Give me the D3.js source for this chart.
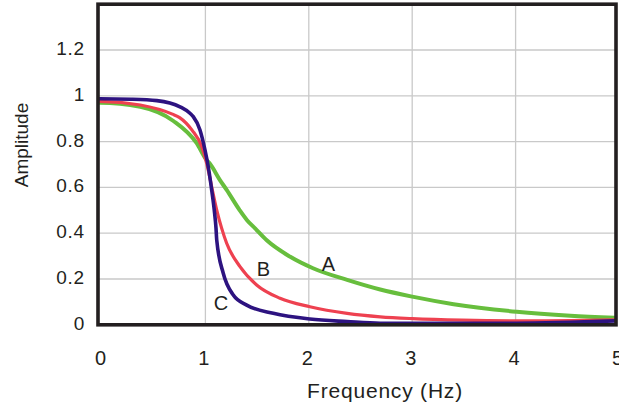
<!DOCTYPE html>
<html>
<head>
<meta charset="utf-8">
<script src="https://cdn.jsdelivr.net/npm/d3@7"></script>
<style>
    body { margin: 0; background: #fff; }
    text { font-family: "Liberation Sans", Arial, sans-serif; fill: #231f20; }
</style>
</head>
<body>
<script>
(function(){

//data: frequency (Hz) and amplitude for each curve
var freqA = [0, 0.39, 0.71, 0.935, 1.03, 1.06, 1.16, 1.225, 1.35, 1.42, 1.5, 1.61, 1.84, 2.06, 2.39, 2.71, 3.02, 3.42, 4.03, 4.55, 4.98];
var ampA  = [0.970, 0.952, 0.890, 0.793, 0.720, 0.705, 0.632, 0.589, 0.501, 0.458, 0.421, 0.370, 0.297, 0.247, 0.196, 0.154, 0.123, 0.090, 0.057, 0.040, 0.031];

var freqB = [0, 0.39, 0.70, 0.77, 0.89, 0.984, 1.032, 1.08, 1.129, 1.177, 1.225, 1.354, 1.515, 1.741, 2.03, 2.39, 2.71, 3.02, 3.5, 4.03, 4.98];
var ampB  = [0.976, 0.960, 0.920, 0.905, 0.850, 0.778, 0.705, 0.603, 0.501, 0.421, 0.356, 0.254, 0.174, 0.116, 0.079, 0.050, 0.035, 0.027, 0.020, 0.017, 0.022];

var freqC = [0, 0.30, 0.55, 0.774, 0.87, 0.902, 0.967, 1.015, 1.047, 1.08, 1.105, 1.122, 1.129, 1.192, 1.289, 1.419, 1.676, 2.03, 2.39, 2.71, 4.03, 4.98];
var ampC  = [0.987, 0.985, 0.979, 0.952, 0.924, 0.909, 0.851, 0.764, 0.690, 0.589, 0.501, 0.421, 0.370, 0.225, 0.130, 0.086, 0.050, 0.025, 0.014, 0.007, 0.007, 0.017];

var seriesNames = ["A", "B", "C"];
var seriesColors = ["#67be3d", "#ee4150", "#2d1380"];
var seriesWidths = [4, 3.2, 3.6];

//curve labels, placed in data units (baseline)
var labelFreq = [2.21, 1.58, 1.17];
var labelAmp  = [0.236, 0.213, 0.065];

var xTicks = [0, 1, 2, 3, 4, 5];
var yTicks = [0, 0.2, 0.4, 0.6, 0.8, 1, 1.2];
var xGrid = [1, 2, 3, 4];
var yGrid = [0.2, 0.4, 0.6, 0.8, 1, 1.2];

window.onload = drawChart();

function drawChart(){

    var width = 619,
        height = 407;

    //plot frame
    var left = 98, right = 616, top = 4.2, bottom = 324.8;

    var svg = d3.select("body")
        .append("svg")
        .attr("width", width)
        .attr("height", height);

    var x = d3.scaleLinear()
        .domain([0, 5])
        .range([100, 617]);

    var y = d3.scaleLinear()
        .domain([0, 1.4])
        .range([bottom, top]);

    //grid
    svg.append("g")
        .selectAll("line")
        .data(xGrid)
        .enter()
        .append("line")
        .attr("x1", function(d){ return x(d) + 2; })
        .attr("x2", function(d){ return x(d) + 2; })
        .attr("y1", top)
        .attr("y2", bottom)
        .attr("stroke", "#c9c9c9")
        .attr("stroke-width", 1.3);

    svg.append("g")
        .selectAll("line")
        .data(yGrid)
        .enter()
        .append("line")
        .attr("x1", left)
        .attr("x2", right)
        .attr("y1", function(d){ return y(d); })
        .attr("y2", function(d){ return y(d); })
        .attr("stroke", "#c9c9c9")
        .attr("stroke-width", 1.3);

    //curves
    var line = d3.line()
        .x(function(d){ return x(d[0]); })
        .y(function(d){ return y(d[1]); })
        .curve(d3.curveMonotoneX);

    var freqs = [freqA, freqB, freqC];
    var amps = [ampA, ampB, ampC];

    svg.append("clipPath")
        .attr("id", "plotclip")
        .append("rect")
        .attr("x", left)
        .attr("y", top)
        .attr("width", right - left)
        .attr("height", bottom - top);

    var curves = svg.append("g").attr("clip-path", "url(#plotclip)");
    seriesNames.forEach(function(name, i){
        var pts = d3.zip(freqs[i], amps[i]);
        pts.unshift([-0.03, amps[i][0]]);
        curves.append("path")
            .datum(pts)
            .attr("class", "curve " + name)
            .attr("d", line)
            .attr("fill", "none")
            .attr("stroke", seriesColors[i])
            .attr("stroke-width", seriesWidths[i])
            .attr("stroke-linejoin", "round");
    });

    //curve letters
    svg.append("g")
        .selectAll("text")
        .data(seriesNames)
        .enter()
        .append("text")
        .attr("x", function(d, i){ return x(labelFreq[i]); })
        .attr("y", function(d, i){ return y(labelAmp[i]); })
        .attr("text-anchor", "middle")
        .style("font-size", "20px")
        .text(function(d){ return d; });

    //frame
    svg.append("rect")
        .attr("x", left)
        .attr("y", top)
        .attr("width", right - left)
        .attr("height", bottom - top)
        .attr("fill", "none")
        .attr("stroke", "#231f20")
        .attr("stroke-width", 3.6);

    //axes
    var yAxis = d3.axisLeft(y)
        .tickValues(yTicks)
        .tickSize(0)
        .tickPadding(13)
        .tickFormat(function(d){ return String(d); });

    var gy = svg.append("g")
        .attr("transform", "translate(" + left + ",0)")
        .call(yAxis);
    gy.select(".domain").remove();
    gy.selectAll("text")
        .attr("dy", "0.24em")
        .style("font-size", "19px")
        .style("letter-spacing", "0.8px")
        .attr("fill", "#231f20");

    var xAxis = d3.axisBottom(x)
        .tickValues(xTicks)
        .tickSize(0)
        .tickPadding(26)
        .tickFormat(function(d){ return String(d); });

    var gx = svg.append("g")
        .attr("transform", "translate(0," + bottom + ")")
        .call(xAxis);
    gx.select(".domain").remove();
    gx.selectAll("text")
        .style("font-size", "20px")
        .attr("fill", "#231f20");

    //titles
    svg.append("text")
        .attr("transform", "translate(28,145) rotate(-90)")
        .attr("text-anchor", "middle")
        .style("font-size", "19px")
        .text("Amplitude");

    svg.append("text")
        .attr("x", 385)
        .attr("y", 397.5)
        .attr("text-anchor", "middle")
        .style("font-size", "21px")
        .style("letter-spacing", "0.8px")
        .text("Frequency (Hz)");
};

})();
</script>
</body>
</html>
